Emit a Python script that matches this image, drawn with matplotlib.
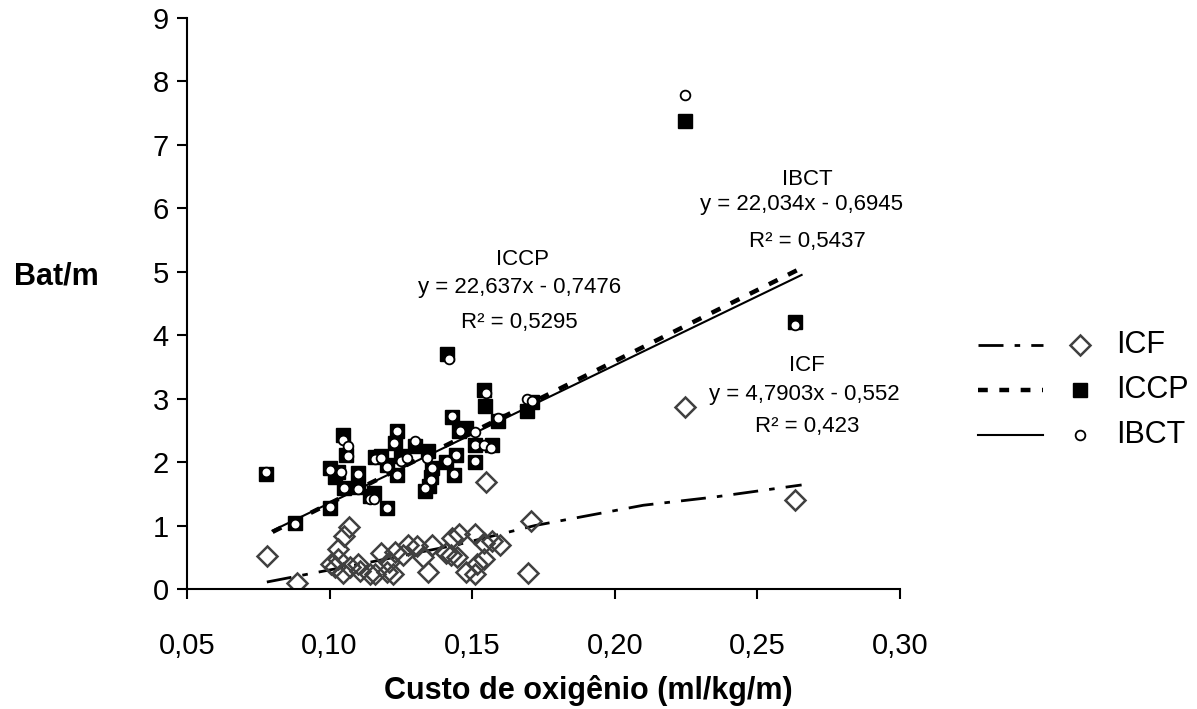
import matplotlib
matplotlib.use("Agg")
import matplotlib.pyplot as plt
from matplotlib.lines import Line2D
from matplotlib.ticker import FuncFormatter

# ---------------------------
# Data
# ---------------------------
icf_x = [0.078, 0.0885, 0.1067, 0.105, 0.103, 0.103, 0.1006, 0.102, 0.1046, 0.107,
         0.110, 0.1107, 0.114, 0.155, 0.1707, 0.1695, 0.118, 0.116, 0.120, 0.1224,
         0.121, 0.123, 0.1259, 0.1276, 0.1305, 0.1328, 0.1345, 0.136, 0.1408, 0.1425,
         0.143, 0.1454, 0.1448, 0.148, 0.151, 0.1517, 0.154, 0.1511, 0.154, 0.157,
         0.1598, 0.2247, 0.2633]
icf_y = [0.52, 0.09, 0.98, 0.84, 0.63, 0.48, 0.40, 0.35, 0.25, 0.35,
         0.40, 0.28, 0.23, 1.68, 1.07, 0.25, 0.56, 0.24, 0.27, 0.24,
         0.43, 0.59, 0.53, 0.70, 0.67, 0.51, 0.27, 0.70, 0.56, 0.53,
         0.80, 0.86, 0.51, 0.27, 0.86, 0.40, 0.48, 0.24, 0.72, 0.75,
         0.70, 2.87, 1.40]

iccp_x = [0.0777, 0.088, 0.100, 0.1046, 0.1057, 0.100, 0.103, 0.102, 0.110, 0.105,
          0.110, 0.114, 0.116, 0.154, 0.1546, 0.159, 0.1693, 0.171, 0.143, 0.148,
          0.1454, 0.151, 0.157, 0.151, 0.1408, 0.1444, 0.1437, 0.1356, 0.136, 0.1333,
          0.135, 0.1236, 0.123, 0.118, 0.120, 0.1236, 0.1252, 0.130, 0.1345, 0.1202,
          0.1155, 0.141, 0.2247, 0.2633]
iccp_y = [1.82, 1.04, 1.27, 2.42, 2.11, 1.91, 1.84, 1.76, 1.83, 1.59,
          1.60, 1.47, 2.08, 3.14, 2.89, 2.65, 2.81, 2.94, 2.71, 2.54,
          2.49, 2.27, 2.27, 2.00, 2.00, 2.11, 1.79, 1.76, 1.90, 1.55,
          1.63, 2.49, 2.30, 2.10, 1.95, 1.79, 2.09, 2.25, 2.17, 1.28,
          1.52, 3.70, 7.37, 4.21]

ibct_x = [0.0777, 0.088, 0.100, 0.1046, 0.1063, 0.1063, 0.100, 0.104, 0.110, 0.105,
          0.110, 0.114, 0.116, 0.155, 0.159, 0.1693, 0.171, 0.143, 0.1456, 0.151,
          0.151, 0.154, 0.1567, 0.151, 0.141, 0.1444, 0.1437, 0.1356, 0.136, 0.1333,
          0.1238, 0.1225, 0.118, 0.120, 0.1236, 0.1252, 0.127, 0.130, 0.1342, 0.1202,
          0.1155, 0.142, 0.2247, 0.2633]
ibct_y = [1.84, 1.02, 1.29, 2.35, 2.26, 2.10, 1.88, 1.84, 1.82, 1.59,
          1.58, 1.42, 2.05, 3.09, 2.70, 3.00, 2.96, 2.72, 2.49, 2.48,
          2.27, 2.27, 2.23, 2.01, 2.01, 2.11, 1.82, 1.72, 1.90, 1.59,
          2.49, 2.30, 2.06, 1.92, 1.79, 2.02, 2.06, 2.34, 2.06, 1.28,
          1.42, 3.62, 7.78, 4.16]

# trend lines as drawn in the original
icf_fit_x = [0.078, 0.115, 0.145, 0.172, 0.21, 0.235, 0.2655]
icf_fit_y = [0.11, 0.43, 0.70, 1.00, 1.32, 1.45, 1.64]
iccp_fit_x = [0.080, 0.2655]
iccp_fit_y = [0.90, 5.06]
ibct_fit_x = [0.080, 0.2655]
ibct_fit_y = [0.92, 4.95]

x_ticks = [0.05, 0.10, 0.15, 0.20, 0.25, 0.30]
y_ticks = list(range(0, 10))

plt.rcParams['font.family'] = ['Liberation Sans', 'DejaVu Sans']

fig = plt.figure(figsize=(11.97, 7.09), dpi=100)
ax = fig.add_axes([187 / 1197, 1 - 589 / 709, 713 / 1197, 571 / 709])

# ---------------------------
# Trend lines
# ---------------------------
icf_style = dict(color='black', lw=2.0, dashes=(9, 4, 2, 4))
iccp_style = dict(color='black', lw=3.2, dashes=(2.2, 2.6))
ibct_style = dict(color='black', lw=1.5, linestyle='-')

ax.plot(icf_fit_x, icf_fit_y, **icf_style)
ax.plot(iccp_fit_x, iccp_fit_y, **iccp_style)
ax.plot(ibct_fit_x, ibct_fit_y, **ibct_style)

# ---------------------------
# Points
# ---------------------------
icf_marker = dict(marker='D', ms=10.5, mfc='none', mec='#404040', mew=1.8, linestyle='none')
iccp_marker = dict(marker='s', ms=10, mfc='black', mec='black', linestyle='none')
ibct_marker = dict(marker='o', ms=7, mfc='white', mec='black', mew=1.3, linestyle='none')

ax.plot(icf_x, icf_y, **icf_marker)
ax.plot(iccp_x, iccp_y, **iccp_marker)
ax.plot(ibct_x, ibct_y, **ibct_marker)

# ---------------------------
# Equation labels
# ---------------------------
txt = dict(fontsize=16, ha='center', va='center')
ax.text(0.1675, 5.19, 'ICCP', **txt)
ax.text(0.1665, 4.75, 'y = 22,637x - 0,7476', **txt)
ax.text(0.1665, 4.20, 'R² = 0,5295', **txt)

ax.text(0.2675, 6.45, 'IBCT', **txt)
ax.text(0.2654, 6.06, 'y = 22,034x - 0,6945', **txt)
ax.text(0.2675, 5.47, 'R² = 0,5437', **txt)

ax.text(0.2675, 3.53, 'ICF', **txt)
ax.text(0.2665, 3.06, 'y = 4,7903x - 0,552', **txt)
ax.text(0.2675, 2.56, 'R² = 0,423', **txt)

# ---------------------------
# Axes styling
# ---------------------------
ax.set_xlim(0.05, 0.30)
ax.set_ylim(0, 9)
ax.set_xticks(x_ticks)
ax.set_yticks(y_ticks)
ax.xaxis.set_major_formatter(FuncFormatter(lambda v, p: f"{v:.2f}".replace('.', ',')))
for side in ['top', 'right']:
    ax.spines[side].set_visible(False)
for side in ['left', 'bottom']:
    ax.spines[side].set_linewidth(1.5)
ax.tick_params(axis='both', direction='out', length=7, width=1.5, labelsize=21)
ax.tick_params(axis='x', pad=24)
ax.tick_params(axis='y', pad=6)

fig.text(588 / 1197, 1 - 690 / 709, 'Custo de oxigênio (ml/kg/m)',
         fontsize=22, fontweight='bold', ha='center', va='center')
fig.text(56 / 1197, 1 - 276 / 709, 'Bat/m',
         fontsize=22, fontweight='bold', ha='center', va='center')

# ---------------------------
# Legend (drawn by hand: line, marker, label)
# ---------------------------
legend_rows = [('ICF', icf_style, icf_marker, 345),
               ('ICCP', iccp_style, iccp_marker, 390),
               ('IBCT', ibct_style, ibct_marker, 435)]
for label, lstyle, mstyle, py in legend_rows:
    yf = 1 - py / 709
    fig.add_artist(Line2D([978 / 1197, 1043 / 1197], [yf, yf], **lstyle))
    fig.add_artist(Line2D([1080 / 1197], [yf], **mstyle))
    fig.text(1116 / 1197, yf, label, fontsize=22, ha='left', va='center')

fig.savefig('out.png', dpi=100)
